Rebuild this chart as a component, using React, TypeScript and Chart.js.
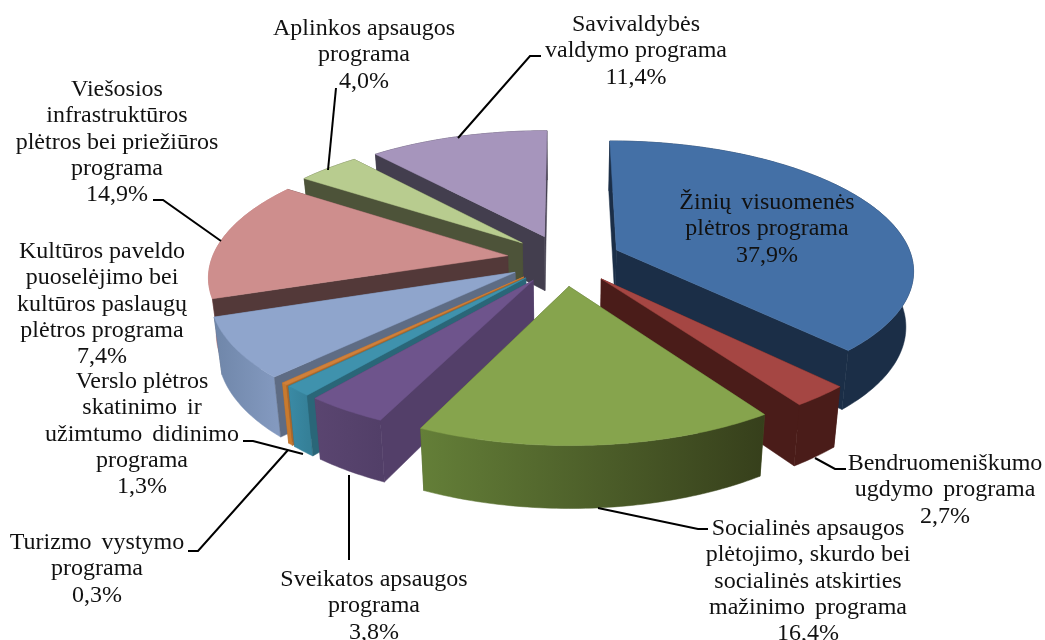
import React, { useEffect, useRef } from "react";
import Chart from "chart.js/auto";

// ---- data ----
const sliceNames = [
  "Žinių visuomenės plėtros programa",
  "Bendruomeniškumo ugdymo programa",
  "Socialinės apsaugos plėtojimo, skurdo bei socialinės atskirties mažinimo programa",
  "Sveikatos apsaugos programa",
  "Verslo plėtros skatinimo ir užimtumo didinimo programa",
  "Turizmo vystymo programa",
  "Kultūros paveldo puoselėjimo bei kultūros paslaugų plėtros programa",
  "Viešosios infrastruktūros plėtros bei priežiūros programa",
  "Aplinkos apsaugos programa",
  "Savivaldybės valdymo programa",
];
const sliceValues = [37.9, 2.7, 16.4, 3.8, 1.3, 0.3, 7.4, 14.9, 4.0, 11.4];
const sliceExplosion = [57, 58, 62, 57, 57, 57, 57, 57, 57, 57];

const labelLines = [
  ["Žinių visuomenės", "plėtros programa"],
  ["Bendruomeniškumo", "ugdymo programa"],
  ["Socialinės apsaugos", "plėtojimo, skurdo bei", "socialinės atskirties", "mažinimo programa"],
  ["Sveikatos apsaugos", "programa"],
  ["Verslo plėtros", "skatinimo ir", "užimtumo didinimo", "programa"],
  ["Turizmo vystymo", "programa"],
  ["Kultūros paveldo", "puoselėjimo bei", "kultūros paslaugų", "plėtros programa"],
  ["Viešosios", "infrastruktūros", "plėtros bei priežiūros", "programa"],
  ["Aplinkos apsaugos", "programa"],
  ["Savivaldybės", "valdymo programa"],
];

// ---- styles ----
const topColors = ["#4470A6", "#A54643", "#86A44D", "#6E548C", "#3F92AD", "#D0803A", "#8FA5CC", "#CE8E8D", "#B8CC8F", "#A695BC"];
const sideColors = ["#1B2E47", "#4A1C19", "#4A5A28", "#533F69", "#2A6678", "#A9662A", "#5E6C84", "#533939", "#4D5339", "#433E4E"];
const wallLeft = ["#1B2E47", "#4A1C19", "#647F38", "#5A4570", "#3A8AA5", "#C87A2E", "#6F86A9", "#C08080", "#4D5339", "#433E4E"];
const wallRight = ["#1B2E47", "#4A1C19", "#363F1B", "#523F68", "#358098", "#C87A2E", "#8399BF", "#C08080", "#4D5339", "#433E4E"];

const labelX = [767, 945, 808, 374, 142, 97, 102, 117, 364, 636];
const labelY = [203, 464, 529, 580, 382, 543, 252, 90, 29, 25];
const leaders: number[][][] = [
  [],
  [[815, 458], [835, 469], [846, 469]],
  [[598, 508], [698, 529], [708, 529]],
  [[349, 475], [349, 560]],
  [[243, 441], [253, 441], [303, 454]],
  [[188, 551], [198, 551], [288, 450]],
  [],
  [[153, 200], [163, 200], [221, 241]],
  [[328, 170], [336, 88]],
  [[458, 138], [530, 56], [541, 56]],
];
const wideLines = ["Žinių visuomenės", "skatinimo ir", "užimtumo didinimo", "Turizmo vystymo", "mažinimo programa", "ugdymo programa"];

const TILT = 0.43;
const PERSPECTIVE = 0.145;
const DEPTH = 55;
const BOTTOM_SHRINK = 0.022;
const LINE_HEIGHT = 26.2;
const FONT = '24px "Liberation Serif"';

const pie3d = {
  id: "pie3d",
  beforeDatasetDraw(chart: any) {
    const ctx = chart.ctx as CanvasRenderingContext2D;
    const arcs = chart.getDatasetMeta(0).data as any[];
    const slices = arcs.map((arc, i) => {
      const start = arc.startAngle + Math.PI / 2;
      const end = arc.endAngle + Math.PI / 2;
      const mid = (start + end) / 2;
      return { arc, i, start, end, mid };
    });
    slices.sort((a, b) => Math.abs(b.mid - Math.PI) - Math.abs(a.mid - Math.PI));

    for (const s of slices) {
      const { arc, i, start, end, mid } = s;
      const R = arc.outerRadius;
      const E = arc.options.offset;
      const ox = E * Math.sin(mid);
      const oy = -E * Math.cos(mid);
      const pt = (theta: number, r: number, z: number) => {
        const X = ox + r * Math.sin(theta);
        const Y = oy - r * Math.cos(theta);
        const k = 1 / (1 - (PERSPECTIVE * Y) / R);
        const shrink = 1 - (BOTTOM_SHRINK * z) / DEPTH;
        return [arc.x + X * k * shrink, arc.y + TILT * Y * k + z * Math.pow(k, 0.7)];
      };
      const poly = (pts: number[][], fill: any) => {
        ctx.beginPath();
        pts.forEach((p, j) => (j ? ctx.lineTo(p[0], p[1]) : ctx.moveTo(p[0], p[1])));
        ctx.closePath();
        ctx.fillStyle = fill;
        ctx.strokeStyle = fill;
        ctx.lineWidth = 0.5;
        ctx.fill();
        ctx.stroke();
      };
      const n = Math.max(2, Math.ceil((end - start) * 60));
      const angles: number[] = [];
      for (let j = 0; j <= n; j++) angles.push(start + ((end - start) * j) / n);

      const radial = (theta: number) => [pt(theta, 0, 0), pt(theta, R, 0), pt(theta, R, DEPTH), pt(theta, 0, DEPTH)];
      const startFront = Math.sin(start) < 0;
      const endFront = Math.sin(end) > 0;
      if (!startFront) poly(radial(start), sideColors[i]);
      if (!endFront) poly(radial(end), sideColors[i]);

      // outer wall
      const topEdge = angles.map((a) => pt(a, R, 0));
      const botEdge = angles.map((a) => pt(a, R, DEPTH));
      const xs = topEdge.map((p) => p[0]);
      const grad = ctx.createLinearGradient(Math.min(...xs), 0, Math.max(...xs) + 1, 0);
      grad.addColorStop(0, wallLeft[i]);
      grad.addColorStop(1, wallRight[i]);
      poly([...topEdge, ...botEdge.reverse()], grad);

      if (startFront) poly(radial(start), sideColors[i]);
      if (endFront) poly(radial(end), sideColors[i]);

      // top face
      poly([pt(start, 0, 0), ...angles.map((a) => pt(a, R, 0))], topColors[i]);
    }
    return false;
  },
  afterDatasetsDraw(chart: any) {
    const ctx = chart.ctx as CanvasRenderingContext2D;
    ctx.save();
    ctx.strokeStyle = "#000";
    ctx.lineWidth = 2;
    ctx.lineJoin = "miter";
    leaders.forEach((l) => {
      if (!l.length) return;
      ctx.beginPath();
      l.forEach((p, j) => (j ? ctx.lineTo(p[0], p[1]) : ctx.moveTo(p[0], p[1])));
      ctx.stroke();
    });
    ctx.fillStyle = "#111";
    ctx.font = FONT;
    ctx.textAlign = "center";
    ctx.textBaseline = "middle";
    labelLines.forEach((lines, i) => {
      const all = [...lines, sliceValues[i].toFixed(1).replace(".", ",") + "%"];
      all.forEach((t, j) => {
        (ctx as any).wordSpacing = wideLines.includes(t) ? "4px" : "0px";
        ctx.fillText(t, labelX[i], labelY[i] + j * LINE_HEIGHT);
      });
    });
    ctx.restore();
  },
};

export default function App() {
  const ref = useRef<HTMLCanvasElement>(null);
  useEffect(() => {
    const chart = new Chart(ref.current!, {
      type: "pie",
      data: {
        labels: sliceNames,
        datasets: [{ data: sliceValues, backgroundColor: topColors, offset: sliceExplosion, borderWidth: 0 }],
      },
      options: {
        animation: false,
        responsive: false,
        radius: 296,
        layout: { padding: { left: 83, bottom: 122 } },
        plugins: { legend: { display: false }, tooltip: { enabled: false } },
      } as any,
      plugins: [pie3d as any],
    });
    return () => chart.destroy();
  }, []);
  return (
    <div style={{ position: "absolute", left: 0, top: 0, width: 1045, height: 640, background: "#fff" }}>
      <canvas ref={ref} width={1045} height={640} style={{ display: "block" }} />
    </div>
  );
}
